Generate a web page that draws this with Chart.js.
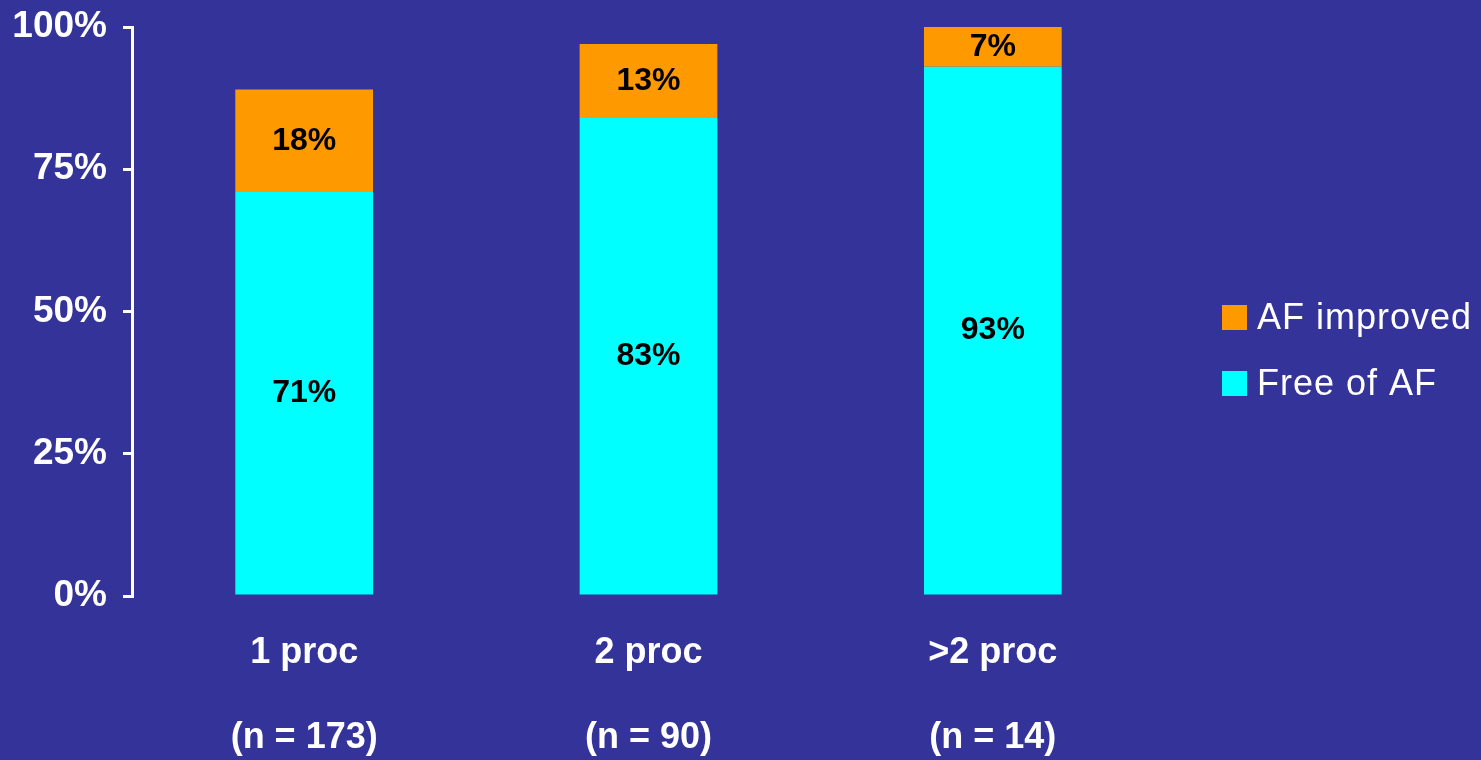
<!DOCTYPE html>
<html>
<head>
<meta charset="utf-8">
<script src="https://cdn.jsdelivr.net/npm/chart.js@4.4.1/dist/chart.umd.min.js"></script>
<style>
  body { margin: 0; background: #333399; }
  #wrap { width: 1481px; height: 760px; position: relative; }
</style>
</head>
<body>
<div id="wrap"><canvas id="bar-chart"></canvas></div>
<script>
// datos
const categorias = [
  ["1 proc", "(n = 173)"],
  ["2 proc", "(n = 90)"],
  [">2 proc", "(n = 14)"],
];
const freeOfAF = [71, 84, 93];
const afImproved = [18, 13, 7];
const freeLabels = ["71%", "83%", "93%"];
const improvedLabels = ["18%", "13%", "7%"];
const yTicks = [0, 25, 50, 75, 100];

const FONT = "'Liberation Sans', Arial, sans-serif";
const ORANGE = "#FF9900";
const CYAN = "#00FFFF";

// etiquetas dentro de las barras + leyenda a la derecha
const labelsPlugin = {
  id: "labelsPlugin",
  afterDatasetsDraw(chart) {
    const ctx = chart.ctx;
    const textos = [freeLabels, improvedLabels];
    ctx.save();
    ctx.font = "bold 32px " + FONT;
    ctx.fillStyle = "#000";
    ctx.textAlign = "center";
    ctx.textBaseline = "middle";
    chart.data.datasets.forEach((ds, i) => {
      chart.getDatasetMeta(i).data.forEach((bar, j) => {
        const y = (bar.y + bar.base) / 2;
        ctx.fillText(textos[i][j], bar.x, y);
      });
    });
    ctx.restore();
  },
  afterDraw(chart) {
    const ctx = chart.ctx;
    const items = [
      { text: "AF improved", color: ORANGE, y: 329 },
      { text: "Free of AF", color: CYAN, y: 395 },
    ];
    ctx.save();
    ctx.font = "36px " + FONT;
    ctx.letterSpacing = "1px";
    ctx.textAlign = "left";
    ctx.textBaseline = "alphabetic";
    items.forEach((it) => {
      ctx.fillStyle = it.color;
      ctx.fillRect(1222, it.y - 24, 25, 25);
      ctx.fillStyle = "#fff";
      ctx.fillText(it.text, 1257, it.y);
    });
    ctx.restore();
  },
};

const contenedor = document.querySelector("#bar-chart").getContext("2d");

const barChart = new Chart(contenedor, {
  type: "bar",
  data: {
    labels: categorias,
    datasets: [
      {
        label: "Free of AF",
        data: freeOfAF,
        backgroundColor: CYAN,
        barPercentage: 0.4,
        categoryPercentage: 1,
      },
      {
        label: "AF improved",
        data: afImproved,
        backgroundColor: ORANGE,
        barPercentage: 0.4,
        categoryPercentage: 1,
      },
    ],
  },
  options: {
    responsive: true,
    maintainAspectRatio: false,
    animation: false,
    layout: { padding: { top: 27, right: 316, bottom: 0, left: 0 } },
    plugins: {
      legend: { display: false },
      tooltip: { enabled: false },
    },
    scales: {
      x: {
        stacked: true,
        grid: { display: false, drawTicks: false },
        border: { display: false },
        ticks: {
          color: "#fff",
          padding: 15,
          font: { family: FONT, size: 36, weight: "bold", lineHeight: 2.35 },
        },
        afterFit(scale) {
          scale.height = 164;
          scale.paddingLeft = 0;
          scale.paddingRight = 0;
        },
      },
      y: {
        stacked: true,
        min: 0,
        max: 100,
        afterBuildTicks(scale) {
          scale.ticks = yTicks.map((v) => ({ value: v }));
        },
        grid: {
          drawOnChartArea: false,
          drawTicks: true,
          tickLength: 9,
          color: "#fff",
          lineWidth: 3,
        },
        border: { color: "#fff", width: 3 },
        ticks: {
          color: "#fff",
          padding: 16,
          font: { family: FONT, size: 37, weight: "bold" },
          callback: (v) => v + "%",
        },
        afterFit(scale) {
          scale.width = 132;
          scale.paddingTop = 0;
          scale.paddingBottom = 0;
        },
      },
    },
  },
  plugins: [labelsPlugin],
});
</script>
</body>
</html>
